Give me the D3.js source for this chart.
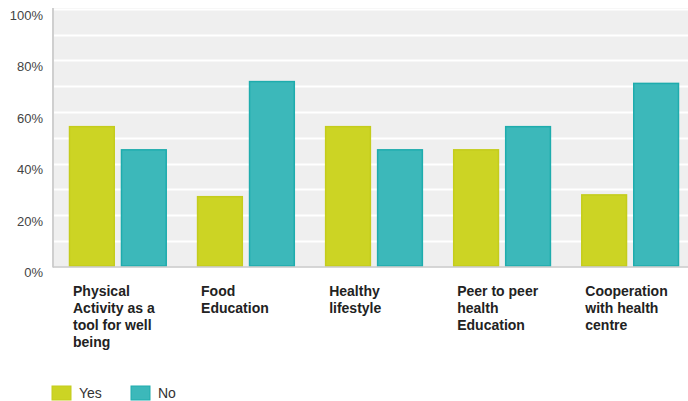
<!DOCTYPE html>
<html>
<head>
<meta charset="utf-8">
<script src="https://cdn.jsdelivr.net/npm/d3@7"></script>
<style>
  html, body { margin: 0; padding: 0; background: #ffffff; }
  svg { display: block; }
  .tick-label { font-family: "Liberation Sans", Arial, sans-serif; font-size: 13px; fill: #444; }
  .cat-label { font-family: "Liberation Sans", Arial, sans-serif; font-size: 14px; font-weight: bold; fill: #222; }
  .legend-label { font-family: "Liberation Sans", Arial, sans-serif; font-size: 14px; fill: #333; }
</style>
</head>
<body>
<svg id="chart" width="688" height="401"></svg>
<script>
// Survey answers per topic (percent of respondents)
const categories = [
  ["Physical", "Activity as a", "tool for well", "being"],
  ["Food", "Education"],
  ["Healthy", "lifestyle"],
  ["Peer to peer", "health", "Education"],
  ["Cooperation", "with health", "centre"]
];
const seriesNames = ["Yes", "No"];
const yesValues = [54.5, 27.3, 54.5, 45.5, 28.0];
const noValues  = [45.5, 72.0, 45.5, 54.5, 71.3];
const yTicks = [0, 20, 40, 60, 80, 100];
const colors = { Yes: "#ccd424", No: "#3cb8ba" };
const strokes = { Yes: "#c4cc1c", No: "#1eacad" };

const svg = d3.select("#chart");
const plot = { left: 53, right: 695, top: 9, bottom: 266.5 };

const y = d3.scaleLinear().domain([0, 100]).range([plot.bottom, plot.top]);
const x0 = d3.scaleBand().domain(d3.range(categories.length))
  .range([plot.left, plot.right]).paddingInner(0.237).paddingOuter(0.125);
const x1 = d3.scaleBand().domain(seriesNames).range([0, x0.bandwidth()]).paddingInner(0.12);

// plot background
svg.append("rect")
  .attr("x", plot.left).attr("y", plot.top - 1)
  .attr("width", plot.right - plot.left).attr("height", plot.bottom - plot.top + 1)
  .attr("fill", "#efefef");

// grid lines every 10%
svg.append("g").selectAll("line")
  .data(d3.range(10, 101, 10))
  .join("line")
  .attr("x1", plot.left).attr("x2", plot.right)
  .attr("y1", d => Math.round(y(d)) + 0.5).attr("y2", d => Math.round(y(d)) + 0.5)
  .attr("stroke", "#ffffff").attr("stroke-width", 2);

// y axis labels
const yAxis = d3.axisLeft(y).tickValues(yTicks).tickFormat(d => d + "%").tickSize(0).tickPadding(10);
const gy = svg.append("g").attr("transform", `translate(${plot.left},0)`).call(yAxis);
gy.select(".domain").remove();
gy.selectAll("text").attr("class", "tick-label").attr("dy", "0.8em").attr("font-family", null).attr("font-size", null).attr("fill", null);

// bars
const data = categories.map((c, i) => ({ i, values: [
  { key: "Yes", v: yesValues[i] }, { key: "No", v: noValues[i] } ] }));

const groups = svg.append("g").selectAll("g")
  .data(data).join("g")
  .attr("transform", d => `translate(${x0(d.i)},0)`);

groups.selectAll("rect")
  .data(d => d.values).join("rect")
  .attr("x", d => x1(d.key) + 0.5)
  .attr("y", d => y(d.v) + 0.5)
  .attr("width", x1.bandwidth() - 1)
  .attr("height", d => y(0) - y(d.v) - 1)
  .attr("fill", d => colors[d.key])
  .attr("stroke", d => strokes[d.key])
  .attr("stroke-width", 1.5);

// axis lines
svg.append("line")
  .attr("x1", plot.left).attr("x2", plot.left)
  .attr("y1", plot.top - 1).attr("y2", plot.bottom + 1)
  .attr("stroke", "#cfcfcf").attr("stroke-width", 2);
svg.append("line")
  .attr("x1", plot.left).attr("x2", plot.right)
  .attr("y1", plot.bottom + 0.5).attr("y2", plot.bottom + 0.5)
  .attr("stroke", "#c8c8c8").attr("stroke-width", 1.5);

// category labels
const labels = svg.append("g").selectAll("text")
  .data(categories).join("text")
  .attr("class", "cat-label")
  .attr("x", (d, i) => x0(i) + 4)
  .attr("y", 296);
labels.selectAll("tspan")
  .data(d => d).join("tspan")
  .attr("x", function () { return this.parentNode.getAttribute("x"); })
  .attr("dy", (d, j) => j === 0 ? 0 : 17)
  .text(d => d);

// legend
const legend = svg.append("g").selectAll("g")
  .data(seriesNames).join("g")
  .attr("transform", (d, i) => `translate(${52 + i * 79},386)`);
legend.append("rect")
  .attr("width", 19).attr("height", 14)
  .attr("fill", d => colors[d]).attr("stroke", d => strokes[d]);
legend.append("text")
  .attr("class", "legend-label")
  .attr("x", 27).attr("y", 12)
  .text(d => d);
</script>
</body>
</html>
